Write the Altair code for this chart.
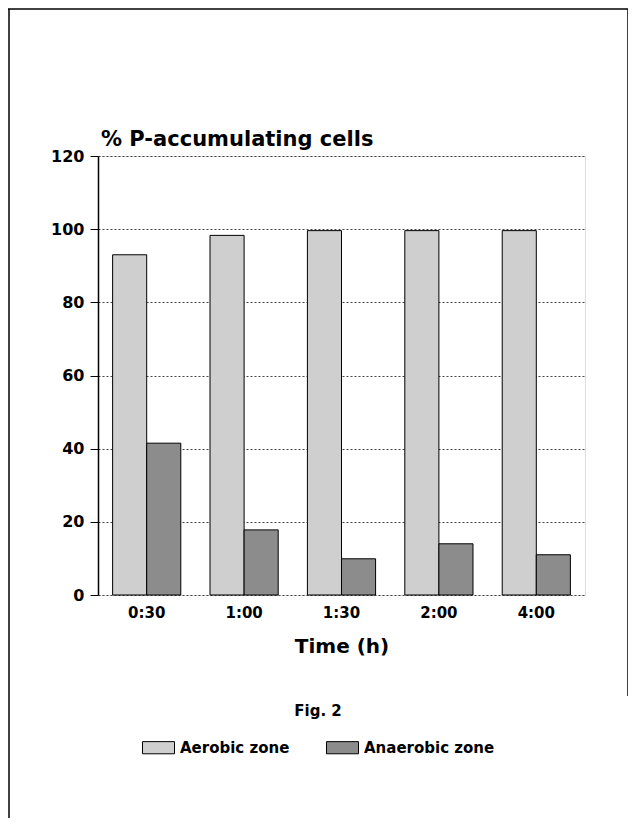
import altair as alt
import pandas as pd

times = ["0:30", "1:00", "1:30", "2:00", "4:00"]
aerobic = [93.0, 98.3, 99.6, 99.6, 99.6]
anaerobic = [41.5, 17.8, 9.9, 14.0, 11.0]
series = ["Aerobic zone", "Anaerobic zone"]
y_ticks = [0, 20, 40, 60, 80, 100, 120]
chart_title = "% P-accumulating cells"

rows = []
for t, a, b in zip(times, aerobic, anaerobic):
    rows.append({"time": t, "zone": series[0], "value": a})
    rows.append({"time": t, "zone": series[1], "value": b})
df = pd.DataFrame(rows)

FONT = "DejaVu Sans"
W, H = 487, 439

swatch = "M-1,-0.38L1,-0.38L1,0.38L-1,0.38Z"

bars = alt.Chart(df).mark_bar(stroke="black", strokeWidth=1).encode(
    x=alt.X("time:N", sort=times,
            scale=alt.Scale(paddingInner=0.30, paddingOuter=0.15),
            axis=alt.Axis(title="Time (h)", labelAngle=0, ticks=False, domain=False,
                          grid=False, labelFont=FONT, labelFontSize=15,
                          labelFontWeight="bold", labelColor="black", labelPadding=10,
                          titleFont=FONT, titleFontSize=20, titleFontWeight="bold",
                          titleColor="black", titlePadding=16)),
    xOffset=alt.XOffset("zone:N", sort=series, scale=alt.Scale(paddingInner=0, paddingOuter=0)),
    y=alt.Y("value:Q", scale=alt.Scale(domain=[0, 120], nice=False),
            axis=alt.Axis(title=None, values=y_ticks, tickSize=8, tickColor="black",
                          domainColor="black", domainWidth=1.5,
                          labelFont=FONT, labelFontSize=16, labelFontWeight="bold",
                          labelColor="black", labelPadding=6,
                          grid=True, gridColor="#444444", gridDash=[2, 2], gridWidth=1)),
    fill=alt.Fill("zone:N", sort=series,
                  scale=alt.Scale(domain=series, range=["#cfcfcf", "#8c8c8c"]),
                  legend=alt.Legend(title="Fig. 2", orient="none", direction="horizontal",
                                    legendX=44, legendY=548,
                                    titleAnchor="middle", titleOrient="top",
                                    titleFont=FONT, titleFontSize=15, titleFontWeight="bold",
                                    titleColor="black", titlePadding=12,
                                    symbolType=swatch, symbolSize=1024,
                                    symbolStrokeColor="black", symbolStrokeWidth=1,
                                    labelFont=FONT, labelFontSize=15, labelFontWeight="bold",
                                    labelColor="black", labelOffset=5, columnPadding=34)),
)

one = pd.DataFrame({"k": [0]})
title_text = alt.Chart(one).mark_text(
    text=chart_title, align="left", baseline="alphabetic",
    font=FONT, fontSize=21, fontWeight="bold", color="black").encode(
    x=alt.value(3), y=alt.value(-10))

top_line = alt.Chart(one).mark_rule(color="black", strokeWidth=1.5).encode(
    x=alt.value(-90), x2=alt.value(530), y=alt.value(-147))
left_line = alt.Chart(one).mark_rule(color="black", strokeWidth=1.5).encode(
    x=alt.value(-89), y=alt.value(-147), y2=alt.value(662))
right_line = alt.Chart(one).mark_rule(color="black", strokeWidth=1.5).encode(
    x=alt.value(530), y=alt.value(-147), y2=alt.value(540))

chart = alt.layer(bars, title_text, top_line, left_line, right_line).properties(
    width=W, height=H,
    autosize=alt.AutoSizeParams(type="none"),
    padding={"left": 90, "top": 148, "right": 43, "bottom": 223},
).configure_view(stroke="black", strokeWidth=1.5).configure(background="white")

chart.save("out.html", embed_options={"renderer": "svg", "actions": False})
